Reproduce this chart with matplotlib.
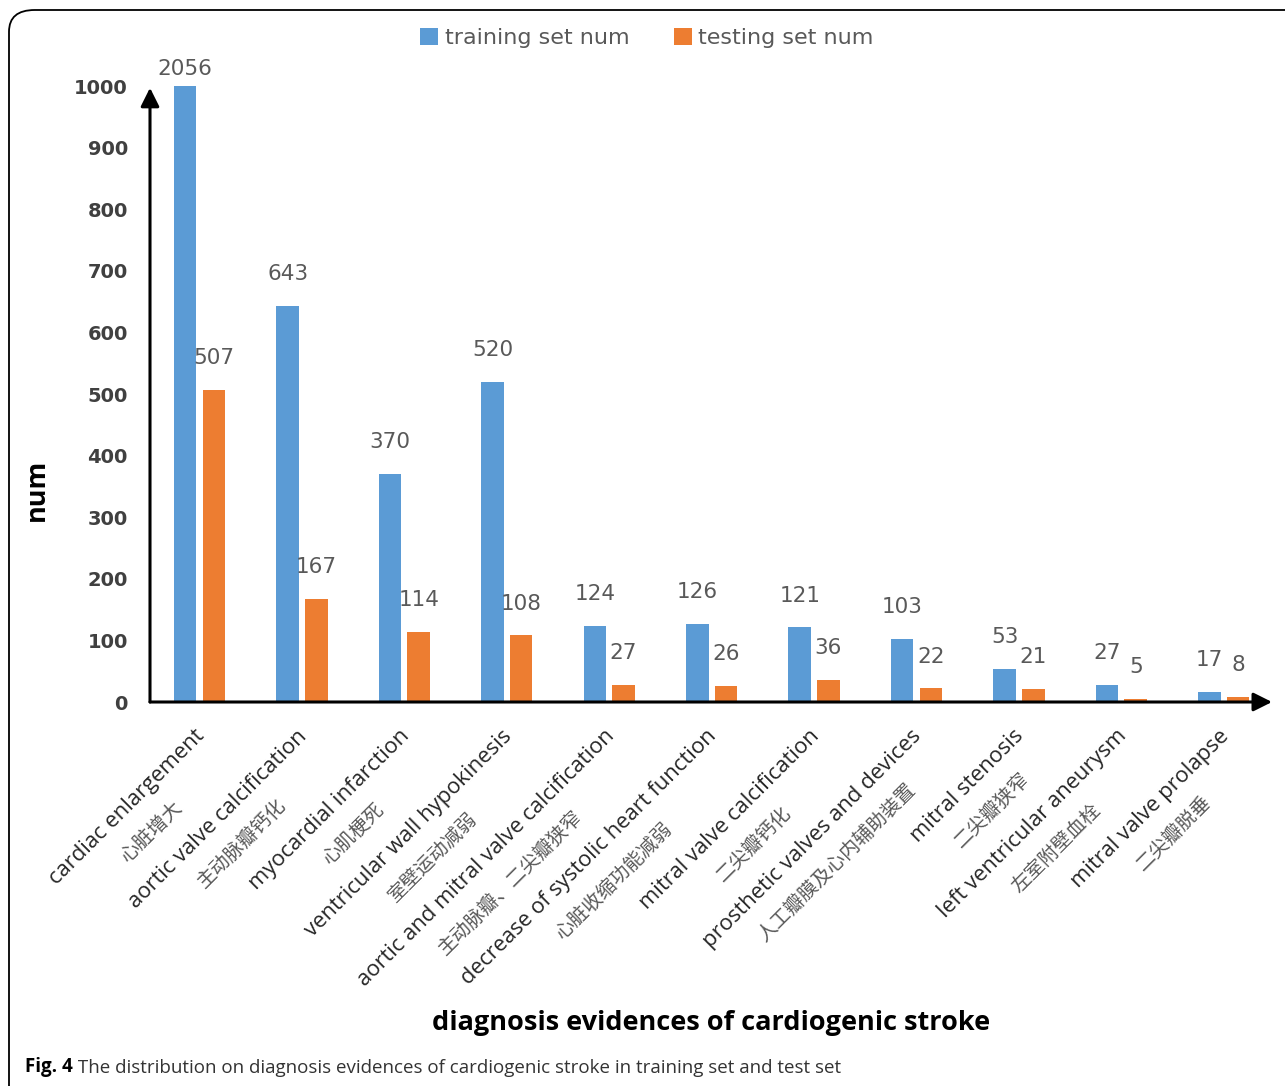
import numpy as np
import matplotlib
matplotlib.use('Agg')
import matplotlib.pyplot as plt
from matplotlib.patches import FancyBboxPatch

# data
categories_en = ['cardiac enlargement', 'aortic valve calcification', 'myocardial infarction',
                 'ventricular wall hypokinesis', 'aortic and mitral valve calcification',
                 'decrease of systolic heart function', 'mitral valve calcification',
                 'prosthetic valves and devices', 'mitral stenosis',
                 'left ventricular aneurysm', 'mitral valve prolapse']
categories_cn = ['心脏增大', '主动脉瓣钙化', '心肌梗死', '室壁运动减弱', '主动脉瓣、二尖瓣狭窄',
                 '心脏收缩功能减弱', '二尖瓣钙化', '人工瓣膜及心内辅助装置', '二尖瓣狭窄',
                 '左室附壁血栓', '二尖瓣脱垂']
training = [2056, 643, 370, 520, 124, 126, 121, 103, 53, 27, 17]
testing = [507, 167, 114, 108, 27, 26, 36, 22, 21, 5, 8]
y_ticks = [0, 100, 200, 300, 400, 500, 600, 700, 800, 900, 1000]

BLUE = '#5B9BD5'
ORANGE = '#ED7D31'
GRAY = '#595959'

fig = plt.figure(figsize=(12.85, 10.86), dpi=100)
W, H = 1285, 1086
ax = fig.add_axes([150 / W, 384 / H, 1122 / W, 616 / H])

x = np.arange(len(categories_en))
w, off = 0.22, 0.14
bars_tr = ax.bar(x - off, training, w, color=BLUE, label='training set num')
bars_te = ax.bar(x + off, testing, w, color=ORANGE, label='testing set num')
ax.set_ylim(0, 1000)
ax.set_xlim(-0.483, 10.47)

for s in ax.spines.values():
    s.set_visible(False)
ax.set_xticks(x)
ax.set_xticklabels([])
ax.set_yticks(y_ticks)
ax.set_yticklabels([str(v) for v in y_ticks], fontsize=14, fontweight='bold', color='#404040')
ax.tick_params(length=0, pad=16)

# axis arrows
arr = dict(arrowstyle='-|>', color='black', lw=2.2, mutation_scale=28, shrinkA=0, shrinkB=0)
ax.annotate('', xy=(0, 0.997), xytext=(0, 0), xycoords='axes fraction', arrowprops=arr,
            annotation_clip=False)
ax.annotate('', xy=(1, 0), xytext=(0, 0), xycoords='axes fraction', arrowprops=arr,
            annotation_clip=False)

# value labels
top = ax.get_ylim()[1]
for bars, vals in ((bars_tr, training), (bars_te, testing)):
    for b, v in zip(bars, vals):
        dy = 12 if v > top else 23
        ax.annotate(str(v), (b.get_x() + b.get_width() / 2, min(v, top)), xytext=(0, dy),
                    textcoords='offset points', ha='center', va='center',
                    fontsize=15.5, color=GRAY, annotation_clip=False)

# category labels, English line plus Chinese line
for i, (en, cn) in enumerate(zip(categories_en, categories_cn)):
    t = ax.annotate(en, (x[i], 0), xytext=(-4, -17), textcoords='offset points',
                    rotation=45, rotation_mode='anchor', ha='right', va='top',
                    fontsize=15.8, family='Open Sans', color='#262626', annotation_clip=False)
    ax.annotate(cn, (0.5, 0.5), xycoords=t, xytext=(17.5, -17.5), textcoords='offset points',
                rotation=45, rotation_mode='anchor', ha='center', va='center',
                fontsize=14, fontweight='light', family=['Noto Sans CJK SC', 'DejaVu Sans'],
                color=GRAY, annotation_clip=False)

fig.legend(loc='center', bbox_to_anchor=(647 / W, 1 - 38 / H), ncol=2, frameon=False,
           handlelength=0.8, handleheight=0.8, handletextpad=0.3, columnspacing=2.0,
           fontsize=16, labelcolor=GRAY)

fig.text(37 / W, 1 - 490 / H, 'num', rotation=90, ha='center', va='center',
         fontsize=19.5, fontweight='bold', family='Open Sans')
fig.text(711 / W, 1 - 1023 / H, 'diagnosis evidences of cardiogenic stroke', ha='center',
         va='center', fontsize=19.5, fontweight='bold', family='Open Sans')

cap = fig.text(25 / W, 1 - 1067 / H, 'Fig. 4', ha='left', va='center', fontsize=13.5,
               fontweight='bold', family='Open Sans')
fig.add_artist(plt.Annotation(' The distribution on diagnosis evidences of cardiogenic stroke in training set and test set',
                              xy=(1, 0), xycoords=cap, va='bottom', ha='left',
                              fontsize=13.5, family='Open Sans', color='#333333'))

frame = FancyBboxPatch((9 / W, -0.1), 1.1, 1 - 10 / H + 0.1, boxstyle='round,pad=0,rounding_size=0.02',
                       transform=fig.transFigure, fill=False, ec='black', lw=1.3)
fig.add_artist(frame)

fig.savefig('out.png', dpi=100)
